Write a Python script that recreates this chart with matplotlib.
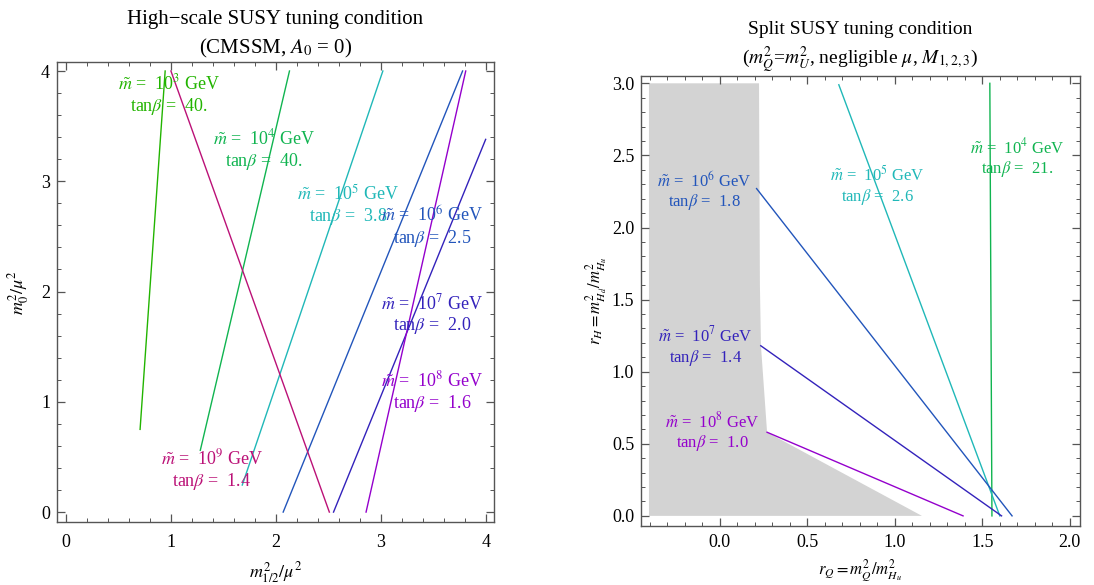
import numpy as np
import matplotlib.pyplot as plt
from matplotlib.ticker import MultipleLocator

plt.rcParams['font.family'] = ['Liberation Serif', 'DejaVu Serif']
plt.rcParams['mathtext.fontset'] = 'stix'

# left panel: CMSSM lines, (x0, y0) -> (x1, y1) in m_{1/2}^2/mu^2, m_0^2/mu^2
hs_exp = [3, 4, 5, 6, 7, 8, 9]
hs_tanb = ['40.', '40.', '3.8', '2.5', '2.0', '1.6', '1.4']
hs_x0 = [0.706, 1.28, 1.68, 2.07, 2.55, 2.86, 2.51]
hs_y0 = [0.75, 0.56, 0.245, 0.0, 0.0, 0.0, 0.0]
hs_x1 = [0.945, 2.13, 3.02, 3.78, 4.0, 3.81, 1.0]
hs_y1 = [4.0, 4.0, 4.0, 4.0, 3.38, 4.0, 4.0]
hs_lx = [0.98, 1.89, 2.69, 3.49, 3.49, 3.49, 1.39]
hs_ly = [3.78, 3.28, 2.78, 2.585, 1.79, 1.09, 0.38]
hs_col = ['#22b400', '#10b450', '#20b8b8', '#2255bb', '#3322bb', '#9400cc', '#bb1177']

# right panel: split SUSY lines in r_Q, r_H
sp_exp = [4, 5, 6, 7, 8]
sp_tanb = ['21.', '2.6', '1.8', '1.4', '1.0']
sp_x0 = [1.543, 0.68, 0.21, 0.234, 0.27]
sp_y0 = [3.0, 2.99, 2.27, 1.18, 0.58]
sp_x1 = [1.555, 1.60, 1.67, 1.61, 1.39]
sp_y1 = [0.0, 0.0, 0.0, 0.0, 0.0]
sp_lx = [1.70, 0.90, -0.09, -0.08, -0.04]
sp_ly = [2.48, 2.29, 2.25, 1.175, 0.58]
sp_col = ['#10b450', '#20b8b8', '#2255bb', '#3322bb', '#9400cc']

# excluded (grey) region boundary
reg_x = [-0.405, -0.405, 0.224, 0.229, 0.235, 0.27, 1.155]
reg_y = [0.0, 3.0, 3.0, 1.6, 1.18, 0.58, 0.0]

fig = plt.figure(figsize=(10.94, 5.85), dpi=100)
ax1 = fig.add_axes([0.0521, 0.1077, 0.3995, 0.786])
ax2 = fig.add_axes([0.586, 0.1009, 0.401, 0.769])


def style(ax, maj, mnr, pad_x, pad_y):
    ax.xaxis.set_major_locator(MultipleLocator(maj[0]))
    ax.yaxis.set_major_locator(MultipleLocator(maj[1]))
    ax.xaxis.set_minor_locator(MultipleLocator(mnr[0]))
    ax.yaxis.set_minor_locator(MultipleLocator(mnr[1]))
    ax.tick_params(which='both', direction='in', top=True, right=True,
                   color='#555555', labelsize=13)
    ax.tick_params(which='major', length=6, width=0.9)
    ax.tick_params(which='minor', length=3, width=0.7)
    ax.tick_params(axis='x', pad=pad_x)
    ax.tick_params(axis='y', pad=pad_y)
    for s in ax.spines.values():
        s.set_color('#555555')
        s.set_linewidth(1.0)


for i in range(len(hs_exp)):
    ax1.plot([hs_x0[i], hs_x1[i]], [hs_y0[i], hs_y1[i]], color=hs_col[i], lw=1.0)
    ax1.text(hs_lx[i], hs_ly[i],
             r'$\tilde{m}$ =  10$^{%d}$ GeV' % hs_exp[i] + '\n' + r'tan$\beta$ =  ' + hs_tanb[i],
             color=hs_col[i], fontsize=13, ha='center', va='center', linespacing=1.15)
ax1.set_xlim(-0.086, 4.08)
ax1.set_ylim(-0.09, 4.08)
style(ax1, (1, 1), (0.2, 0.2), 9, 5)
ax1.set_xlabel(r'$m_{1/2}^2/\mu^2$', fontsize=13, labelpad=6)
ax1.set_ylabel(r'$m_0^2/\mu^2$', fontsize=13, labelpad=7)
ax1.text(0.5, 1.093, 'High\u2212scale SUSY tuning condition', transform=ax1.transAxes,
         ha='center', va='center', fontsize=15)
ax1.text(0.5, 1.03, r'(CMSSM, $A_0$ = 0)', transform=ax1.transAxes,
         ha='center', va='center', fontsize=15)

ax2.fill(reg_x, reg_y, color='#d3d3d3', lw=0)
for i in range(len(sp_exp)):
    ax2.plot([sp_x0[i], sp_x1[i]], [sp_y0[i], sp_y1[i]], color=sp_col[i], lw=1.0)
    ax2.text(sp_lx[i], sp_ly[i],
             r'$\tilde{m}$ =  10$^{%d}$ GeV' % sp_exp[i] + '\n' + r'tan$\beta$ =  ' + sp_tanb[i],
             color=sp_col[i], fontsize=12, ha='center', va='center', linespacing=1.15)
ax2.set_xlim(-0.45, 2.057)
ax2.set_ylim(-0.07, 3.05)
style(ax2, (0.5, 0.5), (0.1, 0.1), 6, 5)
ax2.xaxis.set_major_formatter(plt.FormatStrFormatter('%.1f'))
ax2.yaxis.set_major_formatter(plt.FormatStrFormatter('%.1f'))
ax2.set_xlabel(r'$r_Q = m_Q^2/m_{H_u}^2$', fontsize=12, labelpad=5)
ax2.set_ylabel(r'$r_H = m_{H_d}^2/m_{H_u}^2$', fontsize=12, labelpad=1)
ax2.text(0.5, 1.104, 'Split SUSY tuning condition', transform=ax2.transAxes,
         ha='center', va='center', fontsize=14)
ax2.text(0.5, 1.036, r'($m_Q^2$=$m_U^2$, negligible $\mu$, $M_{1,2,3}$)', transform=ax2.transAxes,
         ha='center', va='center', fontsize=14)

fig.savefig('out.png', dpi=100)
